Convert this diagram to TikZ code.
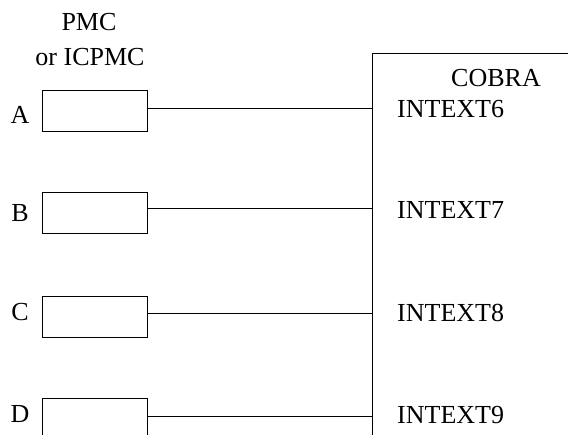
\documentclass[tikz,border=0pt]{standalone}
\usepackage{fontspec}
\setmainfont{Liberation Serif}
\begin{document}
\begin{tikzpicture}[x=1pt,y=-1pt,
  pmcbox/.style={draw, line width=0.8pt, minimum width=105pt, minimum height=41pt, inner sep=0pt},
  lbl/.style={font=\fontsize{26}{30}\selectfont, inner sep=0pt},
  wire/.style={line width=0.8pt}]
\useasboundingbox (0,0) rectangle (568,435);
% title
\node[lbl] (t1) at (89,22) {PMC};
\node[lbl] (t2) at (90,57) {or ICPMC};
% PMC boxes
\node[pmcbox] (A) at (94.5,110.5) {};
\node[pmcbox] (B) at (94.5,213) {};
\node[pmcbox] (C) at (94.5,316.5) {};
\node[pmcbox] (D) at (94.5,418.5) {};
\node[lbl] (la) at (20,115) {A};
\node[lbl] (lb) at (20,213) {B};
\node[lbl] (lc) at (20,312) {C};
\node[lbl] (ld) at (20,414) {D};
% COBRA box
\coordinate (cb) at (372,445);
\coordinate (ct) at (372,53);
\coordinate (cr) at (580,53);
\draw[wire] (cb) -- (ct) -- (cr);
\node[lbl] (cobra) at (496,78) {COBRA};
\node[lbl, anchor=west] (i6) at (397,109) {INTEXT6};
\node[lbl, anchor=west] (i7) at (397,210) {INTEXT7};
\node[lbl, anchor=west] (i8) at (397,313) {INTEXT8};
\node[lbl, anchor=west] (i9) at (397,415) {INTEXT9};
% connectors
\draw[wire] ([yshift=2.5pt]A.east) -- ([yshift=2.5pt]A.east -| ct);
\draw[wire] ([yshift=5pt]B.east) -- ([yshift=5pt]B.east -| ct);
\draw[wire] ([yshift=3.5pt]C.east) -- ([yshift=3.5pt]C.east -| ct);
\draw[wire] ([yshift=2.5pt]D.east) -- ([yshift=2.5pt]D.east -| ct);
\end{tikzpicture}
\end{document}
